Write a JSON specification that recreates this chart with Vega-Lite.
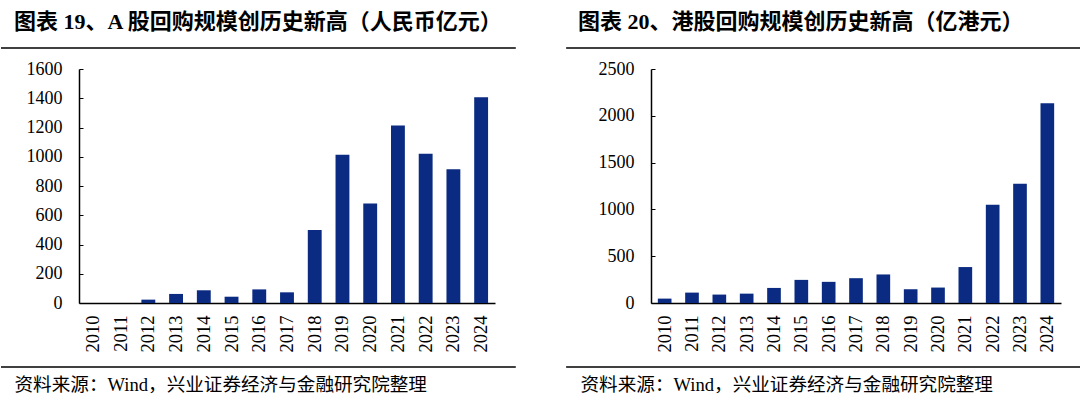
{
  "$schema": "https://vega.github.io/schema/vega-lite/v6.json",
  "padding": {"left": 0, "top": 11, "right": 0, "bottom": 0},
  "background": "white",
  "config": {
    "view": {"stroke": null},
    "font": "Liberation Serif, Noto Sans CJK SC",
    "concat": {"spacing": 48}
  },
  "datasets": {
    "a": [
      {"year": "2010", "value": 0},
      {"year": "2011", "value": 0},
      {"year": "2012", "value": 23},
      {"year": "2013", "value": 62},
      {"year": "2014", "value": 87},
      {"year": "2015", "value": 43},
      {"year": "2016", "value": 93},
      {"year": "2017", "value": 73},
      {"year": "2018", "value": 499},
      {"year": "2019", "value": 1014},
      {"year": "2020", "value": 681},
      {"year": "2021", "value": 1213},
      {"year": "2022", "value": 1021},
      {"year": "2023", "value": 914},
      {"year": "2024", "value": 1406}
    ],
    "hk": [
      {"year": "2010", "value": 47},
      {"year": "2011", "value": 111},
      {"year": "2012", "value": 90},
      {"year": "2013", "value": 100},
      {"year": "2014", "value": 161},
      {"year": "2015", "value": 247},
      {"year": "2016", "value": 226},
      {"year": "2017", "value": 265},
      {"year": "2018", "value": 305},
      {"year": "2019", "value": 147},
      {"year": "2020", "value": 165},
      {"year": "2021", "value": 384},
      {"year": "2022", "value": 1051},
      {"year": "2023", "value": 1273},
      {"year": "2024", "value": 2134}
    ]
  },
  "hconcat": [
    {
      "title": {"text": "图表 19、A 股回购规模创历史新高（人民币亿元）", "anchor": "start", "frame": "group", "dx": -65, "fontSize": 22, "fontWeight": "bold", "font": "Liberation Serif, Noto Sans CJK SC", "color": "#000", "offset": 13},
      "width": 416,
      "height": 234,
      "layer": [
        {
          "data": {"name": "a"},
          "mark": {"type": "bar", "color": "#0b2b82"},
          "encoding": {
            "x": {"field": "year", "type": "ordinal", "scale": {"paddingInner": 0.5, "paddingOuter": 0.25},
              "axis": {"title": "资料来源：Wind，兴业证券经济与金融研究院整理", "titleFont": "Liberation Serif, Noto Sans CJK SC", "titleFontSize": 18.6, "titleFontWeight": "normal", "titleColor": "#000", "titleAnchor": "start", "titleAlign": "left", "titleX": -65, "titleY": 81, "titleBaseline": "middle",
                "labelAngle": 270, "labelFontSize": 18.5, "labelColor": "#000", "labelPadding": 12, "ticks": false, "domainColor": "#000", "domainWidth": 1.5}},
            "y": {"field": "value", "type": "quantitative", "scale": {"domain": [0, 1600]},
              "axis": {"title": null, "format": "d", "values": [0, 200, 400, 600, 800, 1000, 1200, 1400, 1600], "grid": false, "tickSize": -4, "tickColor": "#000", "labelPadding": 21, "labelFontSize": 18, "labelColor": "#000", "domainColor": "#000", "domainWidth": 1.5}}
          }
        },
        {
          "data": {"values": [{}]},
          "mark": {"type": "rule", "color": "#000", "strokeWidth": 1.5},
          "encoding": {
            "x": {"datum": -0.1875, "type": "quantitative", "scale": {"domain": [0, 1]}, "axis": null},
            "x2": {"datum": 1.05},
            "y": {"datum": 1.09, "type": "quantitative", "scale": {"domain": [0, 1]}, "axis": null}
          }
        },
        {
          "data": {"values": [{}]},
          "mark": {"type": "rule", "color": "#000", "strokeWidth": 1.5},
          "encoding": {
            "x": {"datum": -0.1875, "type": "quantitative", "scale": {"domain": [0, 1]}, "axis": null},
            "x2": {"datum": 1.05},
            "y": {"datum": -0.2735, "type": "quantitative", "scale": {"domain": [0, 1]}, "axis": null}
          }
        }
      ],
      "resolve": {"scale": {"x": "independent", "y": "independent"}}
    },
    {
      "title": {"text": "图表 20、港股回购规模创历史新高（亿港元）", "anchor": "start", "frame": "group", "dx": -73, "fontSize": 22, "fontWeight": "bold", "font": "Liberation Serif, Noto Sans CJK SC", "color": "#000", "offset": 13},
      "width": 410,
      "height": 234,
      "layer": [
        {
          "data": {"name": "hk"},
          "mark": {"type": "bar", "color": "#0b2b82"},
          "encoding": {
            "x": {"field": "year", "type": "ordinal", "scale": {"paddingInner": 0.5, "paddingOuter": 0.25},
              "axis": {"title": "资料来源：Wind，兴业证券经济与金融研究院整理", "titleFont": "Liberation Serif, Noto Sans CJK SC", "titleFontSize": 18.6, "titleFontWeight": "normal", "titleColor": "#000", "titleAnchor": "start", "titleAlign": "left", "titleX": -71, "titleY": 81, "titleBaseline": "middle",
                "labelAngle": 270, "labelFontSize": 18.5, "labelColor": "#000", "labelPadding": 12, "ticks": false, "domainColor": "#000", "domainWidth": 1.5}},
            "y": {"field": "value", "type": "quantitative", "scale": {"domain": [0, 2500]},
              "axis": {"title": null, "format": "d", "values": [0, 500, 1000, 1500, 2000, 2500], "grid": false, "tickSize": -4, "tickColor": "#000", "labelPadding": 21, "labelFontSize": 18, "labelColor": "#000", "domainColor": "#000", "domainWidth": 1.5}}
          }
        },
        {
          "data": {"values": [{}]},
          "mark": {"type": "rule", "color": "#000", "strokeWidth": 1.5},
          "encoding": {
            "x": {"datum": -0.207, "type": "quantitative", "scale": {"domain": [0, 1]}, "axis": null},
            "x2": {"datum": 1.054},
            "y": {"datum": 1.09, "type": "quantitative", "scale": {"domain": [0, 1]}, "axis": null}
          }
        },
        {
          "data": {"values": [{}]},
          "mark": {"type": "rule", "color": "#000", "strokeWidth": 1.5},
          "encoding": {
            "x": {"datum": -0.207, "type": "quantitative", "scale": {"domain": [0, 1]}, "axis": null},
            "x2": {"datum": 1.054},
            "y": {"datum": -0.2735, "type": "quantitative", "scale": {"domain": [0, 1]}, "axis": null}
          }
        }
      ],
      "resolve": {"scale": {"x": "independent", "y": "independent"}}
    }
  ]
}
